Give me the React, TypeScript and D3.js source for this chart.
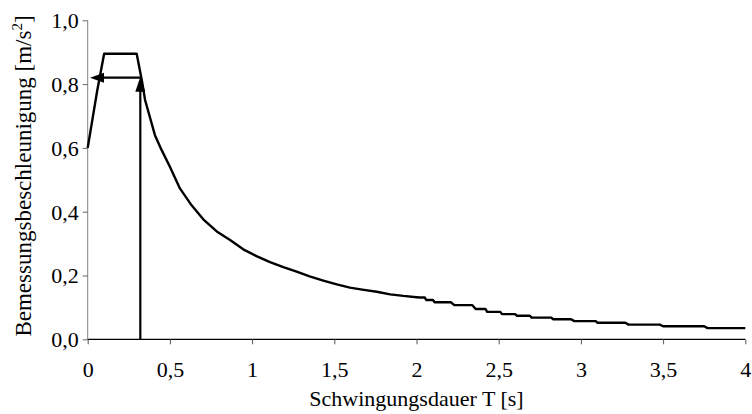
import React, { useEffect, useRef } from "react";
import * as d3 from "d3";

// Periods T [s] and design acceleration [m/s²] (rising branch, plateau, 1/T branch)
const periodsMain = [0, 0.058, 0.1, 0.298, 0.332, 0.349, 0.409, 0.45, 0.5, 0.561, 0.632, 0.703, 0.785, 0.866, 0.946, 1.03, 1.109, 1.19, 1.271, 1.35, 1.433, 1.515, 1.595, 1.68, 1.758, 1.84, 1.92, 2.0];
const accelMain = [0.6, 0.78, 0.895, 0.895, 0.804, 0.75, 0.64, 0.593, 0.541, 0.473, 0.42, 0.376, 0.338, 0.311, 0.282, 0.26, 0.242, 0.226, 0.212, 0.197, 0.184, 0.172, 0.162, 0.155, 0.149, 0.141, 0.136, 0.132];

// Stepped tail: start T, end T, level
const tailStart = [2.02, 2.06, 2.11, 2.23, 2.36, 2.43, 2.52, 2.61, 2.7, 2.83, 2.96, 3.1, 3.29, 3.5, 3.77];
const tailEnd = [2.05, 2.1, 2.21, 2.34, 2.42, 2.51, 2.6, 2.69, 2.82, 2.94, 3.09, 3.27, 3.48, 3.75, 4.0];
const tailLevel = [0.131, 0.123, 0.116, 0.107, 0.095, 0.086, 0.079, 0.074, 0.068, 0.063, 0.057, 0.052, 0.046, 0.041, 0.035];

const xTicks = [0, 0.5, 1, 1.5, 2, 2.5, 3, 3.5, 4];
const yTicks = [0, 0.2, 0.4, 0.6, 0.8, 1.0];

// reading arrows
const arrowT = 0.32;
const arrowA = 0.82;
const arrowTipT = 0.014;

const fmt = (v: number) => String(v).replace(".", ",");
const fmtY = (v: number) => v.toFixed(1).replace(".", ",");

export default function App() {
  const ref = useRef<SVGSVGElement>(null);

  useEffect(() => {
    const svg = d3.select(ref.current);
    svg.selectAll("*").remove();

    const x = d3.scaleLinear().domain([0, 4]).range([87.7, 745.3]);
    const y = d3.scaleLinear().domain([0, 1]).range([339.3, 20.3]);
    const font = "'Liberation Serif', 'Times New Roman', serif";

    const pts: [number, number][] = periodsMain.map((t, i) => [t, accelMain[i]]);
    tailStart.forEach((t, i) => {
      pts.push([t, tailLevel[i]]);
      pts.push([tailEnd[i], tailLevel[i]]);
    });

    const g = svg.append("g");

    // Y axis (grey)
    const yAxis = g.append("g")
      .attr("font-family", font)
      .attr("transform", `translate(${x(0)},0)`)
      .call(d3.axisLeft(y).tickValues(yTicks).tickSize(5).tickPadding(4).tickFormat(d => fmtY(+d)));
    yAxis.attr("font-family", font);
    yAxis.select(".domain").attr("stroke", "#808080").attr("d", `M0,${y(1)}V${y(0)}`);
    yAxis.selectAll(".tick line").attr("stroke", "#666");
    yAxis.selectAll("text")
      .attr("font-family", font)
      .attr("font-size", 22)
      .attr("fill", "#000")
      .attr("dy", "0.34em");

    // X axis
    const xAxis = g.append("g")
      .attr("transform", `translate(0,${y(0)})`)
      .call(d3.axisBottom(x).tickValues(xTicks).tickSize(5).tickPadding(6).tickFormat(d => fmt(+d)));
    xAxis.attr("font-family", font);
    xAxis.select(".domain").attr("stroke", "#000").attr("stroke-width", 1.3).attr("d", `M${x(0)},0H${x(4)}`);
    xAxis.selectAll(".tick line").attr("stroke", "#555");
    xAxis.selectAll("text")
      .attr("font-family", font)
      .attr("font-size", 22)
      .attr("fill", "#000")
      .attr("dy", "1.2em");

    // spectrum curve
    const line = d3.line<[number, number]>().x(d => x(d[0])).y(d => y(d[1]));
    g.append("path")
      .datum(pts)
      .attr("d", line)
      .attr("fill", "none")
      .attr("stroke", "#000")
      .attr("stroke-width", 2.4)
      .attr("stroke-linejoin", "round");

    // arrows
    const ax = x(arrowT), ay = y(arrowA), tipX = x(arrowTipT);
    g.append("line")
      .attr("x1", ax).attr("x2", ax)
      .attr("y1", y(0)).attr("y2", ay + 10)
      .attr("stroke", "#000").attr("stroke-width", 2.2);
    g.append("path")
      .attr("d", `M${ax},${ay - 1}L${ax - 5},${ay + 14}L${ax + 5},${ay + 14}Z`)
      .attr("fill", "#000");
    g.append("line")
      .attr("x1", ax + 1).attr("x2", tipX + 10)
      .attr("y1", ay).attr("y2", ay)
      .attr("stroke", "#000").attr("stroke-width", 2.2);
    g.append("path")
      .attr("d", `M${tipX},${ay}L${tipX + 14},${ay - 5}L${tipX + 14},${ay + 5}Z`)
      .attr("fill", "#000");

    // axis titles
    g.append("text")
      .attr("x", (x(0) + x(4)) / 2)
      .attr("y", 406)
      .attr("text-anchor", "middle")
      .attr("font-family", font)
      .attr("font-size", 22)
      .text("Schwingungsdauer T [s]");

    const yt = g.append("text")
      .attr("transform", `translate(31,${176}) rotate(-90)`)
      .attr("text-anchor", "middle")
      .attr("font-family", font)
      .attr("font-size", 23);
    yt.append("tspan").text("Bemessungsbeschleunigung [m/s");
    yt.append("tspan").attr("font-size", 15).attr("dy", -9).text("2");
    yt.append("tspan").attr("dy", 9).text("]");
  }, []);

  return (
    <svg
      ref={ref}
      width={752}
      height={414}
      style={{ position: "absolute", left: 0, top: 0, background: "#fff" }}
    />
  );
}
